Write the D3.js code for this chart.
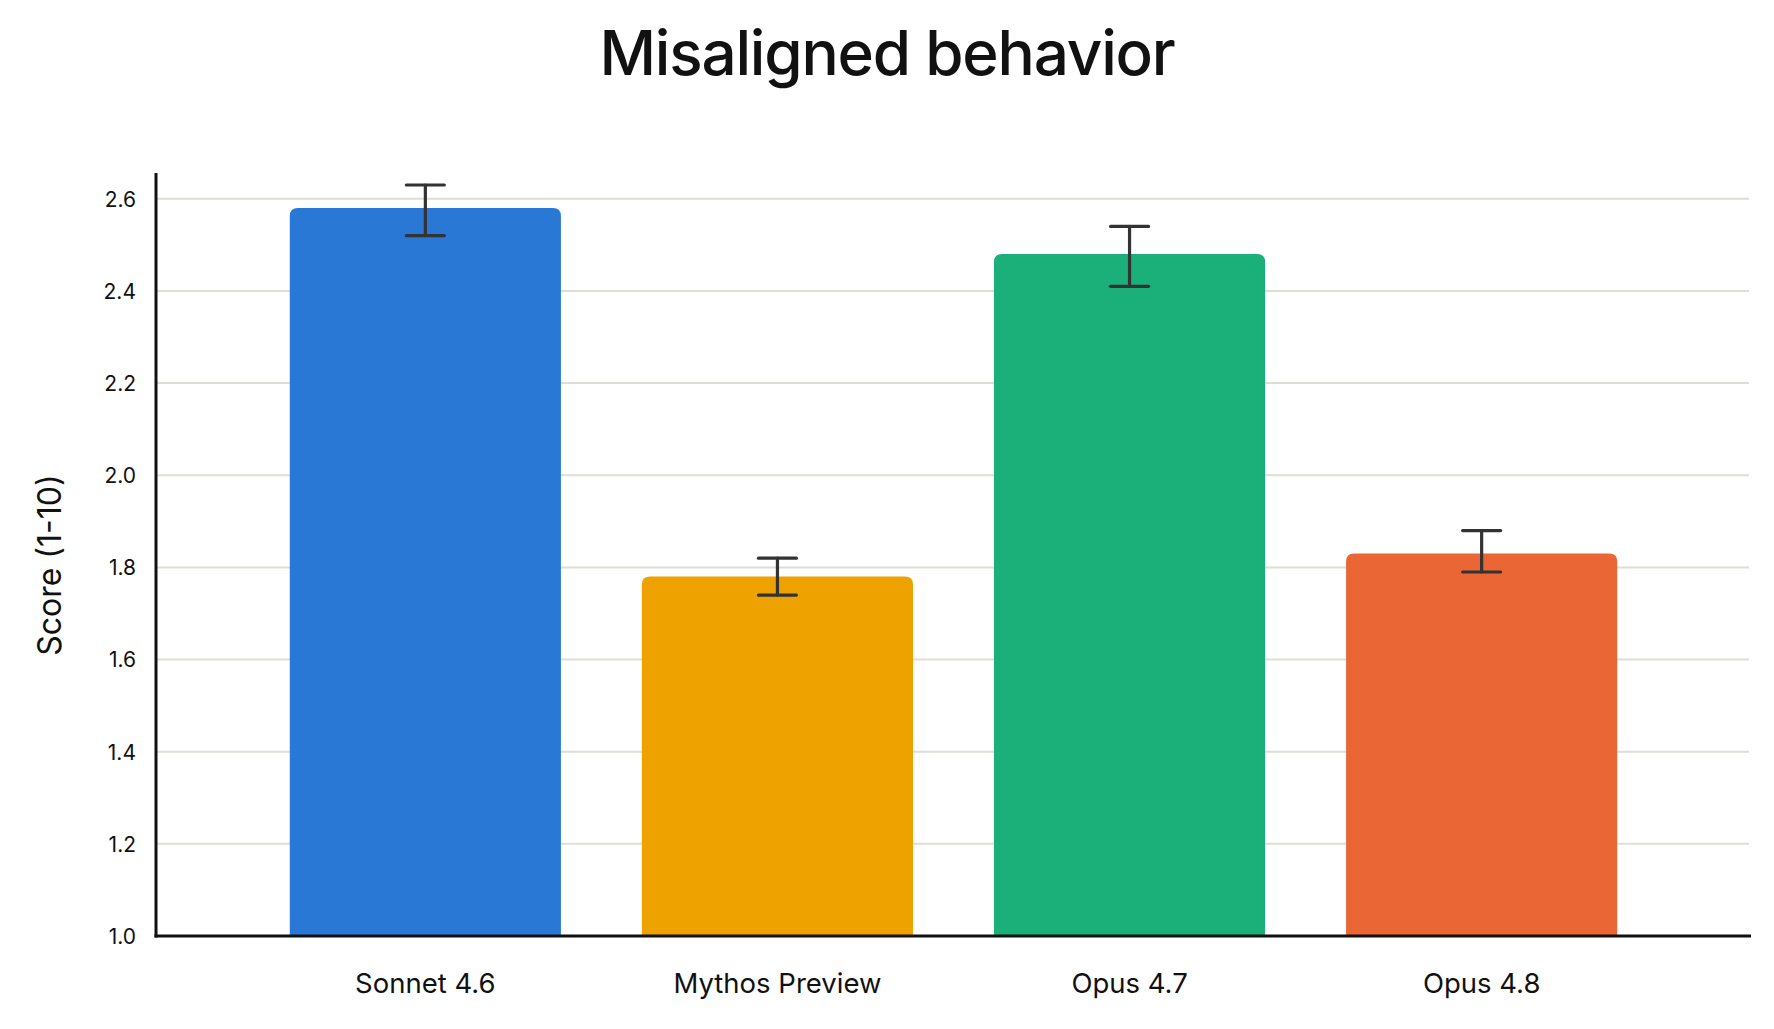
<!DOCTYPE html>
<html>
<head>
<meta charset="utf-8">
<script src="https://cdn.jsdelivr.net/npm/d3@7"></script>
<style>
  html, body { margin: 0; padding: 0; background: #fff; }
  svg text { font-family: Inter, "Noto Sans", sans-serif; fill: #111; }
</style>
</head>
<body>
<div id="chart"></div>
<script>
// chart data
const models = ["Sonnet 4.6", "Mythos Preview", "Opus 4.7", "Opus 4.8"];
const scores = [2.58, 1.78, 2.48, 1.83];
const errLow = [2.52, 1.74, 2.41, 1.79];
const errHigh = [2.63, 1.82, 2.54, 1.88];
const barColors = ["#2a78d6", "#eda200", "#1baf7a", "#eb6635"];
const yTicks = [1.0, 1.2, 1.4, 1.6, 1.8, 2.0, 2.2, 2.4, 2.6];

const WIDTH = 1774, HEIGHT = 1029;
const MARGIN = {TOP: 173, RIGHT: 23, BOTTOM: 93, LEFT: 156};
const innerW = WIDTH - MARGIN.LEFT - MARGIN.RIGHT;
const innerH = HEIGHT - MARGIN.TOP - MARGIN.BOTTOM;

const svg = d3.select("#chart").append("svg")
  .attr("width", WIDTH)
  .attr("height", HEIGHT);

// title
svg.append("text")
  .attr("x", WIDTH / 2)
  .attr("y", 75)
  .attr("text-anchor", "middle")
  .style("font-size", "62px")
  .style("font-weight", 500)
  .style("letter-spacing", "-1.2px")
  .text("Misaligned behavior");

const g = svg.append("g")
  .attr("transform", "translate(" + MARGIN.LEFT + "," + MARGIN.TOP + ")");

const xScale = d3.scaleBand()
  .domain(models)
  .range([0, innerW])
  .paddingInner(0.23)
  .paddingOuter(0.38);

const yScale = d3.scaleLinear()
  .domain([1.0, 2.656])
  .range([innerH, 0]);

// grid lines
g.selectAll(".grid")
  .data(yTicks.slice(1))
  .enter()
  .append("line")
  .attr("class", "grid")
  .attr("x1", 0)
  .attr("x2", innerW - 2)
  .attr("y1", (d) => yScale(d))
  .attr("y2", (d) => yScale(d))
  .attr("stroke", "#deded6")
  .attr("stroke-width", 2);

// bars with rounded tops
const r = 8;
g.selectAll(".bar")
  .data(models)
  .enter()
  .append("path")
  .attr("class", "bar")
  .attr("fill", (d, i) => barColors[i])
  .attr("d", (d, i) => {
    const x0 = xScale(d), w = xScale.bandwidth();
    const y0 = yScale(scores[i]), y1 = yScale(1.0);
    return "M" + x0 + "," + y1 +
      "V" + (y0 + r) +
      "Q" + x0 + "," + y0 + " " + (x0 + r) + "," + y0 +
      "H" + (x0 + w - r) +
      "Q" + (x0 + w) + "," + y0 + " " + (x0 + w) + "," + (y0 + r) +
      "V" + y1 + "Z";
  });

// error bars
const cap = 19;
const err = g.selectAll(".err")
  .data(models)
  .enter()
  .append("g")
  .attr("class", "err")
  .attr("stroke", "#333333")
  .attr("stroke-width", 3.2)
  .attr("stroke-linecap", "round");

err.append("line")
  .attr("x1", (d) => xScale(d) + xScale.bandwidth() / 2)
  .attr("x2", (d) => xScale(d) + xScale.bandwidth() / 2)
  .attr("y1", (d, i) => yScale(errLow[i]))
  .attr("y2", (d, i) => yScale(errHigh[i]));
err.append("line")
  .attr("x1", (d) => xScale(d) + xScale.bandwidth() / 2 - cap)
  .attr("x2", (d) => xScale(d) + xScale.bandwidth() / 2 + cap)
  .attr("y1", (d, i) => yScale(errHigh[i]))
  .attr("y2", (d, i) => yScale(errHigh[i]));
err.append("line")
  .attr("x1", (d) => xScale(d) + xScale.bandwidth() / 2 - cap)
  .attr("x2", (d) => xScale(d) + xScale.bandwidth() / 2 + cap)
  .attr("y1", (d, i) => yScale(errLow[i]))
  .attr("y2", (d, i) => yScale(errLow[i]));

// y axis
const yAxis = g.append("g")
  .attr("class", "y axis")
  .call(d3.axisLeft(yScale).tickValues(yTicks).tickFormat(d3.format(".1f")).tickSize(0).tickPadding(20));
yAxis.select(".domain").remove();
yAxis.selectAll("text").style("font-size", "21px").attr("dy", "0.35em");

// x axis
const xAxis = g.append("g")
  .attr("class", "x axis")
  .attr("transform", "translate(0," + innerH + ")")
  .call(d3.axisBottom(xScale).tickSize(0).tickPadding(37));
xAxis.select(".domain").remove();
xAxis.selectAll("text").style("font-size", "27.5px").attr("dy", "0.71em");

// axis lines
g.append("line")
  .attr("x1", 0).attr("x2", 0)
  .attr("y1", 0).attr("y2", innerH + 1.5)
  .attr("stroke", "#111").attr("stroke-width", 3);
g.append("line")
  .attr("x1", -1.5).attr("x2", innerW)
  .attr("y1", innerH).attr("y2", innerH)
  .attr("stroke", "#111").attr("stroke-width", 3);

// y axis label
svg.append("text")
  .attr("transform", "translate(61," + (MARGIN.TOP + yScale(1.805)) + ") rotate(-90)")
  .attr("text-anchor", "middle")
  .style("font-size", "32px")
  .text("Score (1-10)");
</script>
</body>
</html>
